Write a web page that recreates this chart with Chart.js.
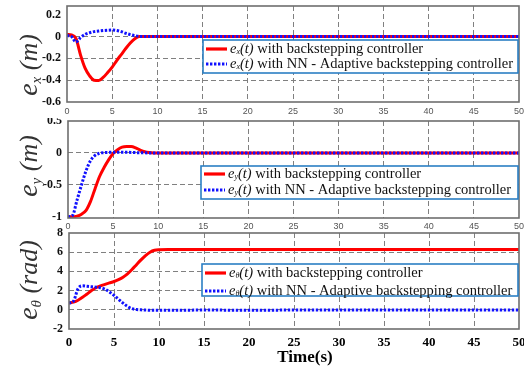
<!DOCTYPE html>
<html><head><meta charset="utf-8">
<script src="https://cdn.jsdelivr.net/npm/chart.js@4"></script>
<style>
html,body{margin:0;padding:0;background:#fff;width:524px;height:369px;overflow:hidden;position:relative}
canvas{position:absolute;left:0}
</style></head><body>
<canvas id="c1" style="top:0px"></canvas>
<canvas id="c2" style="top:118px"></canvas>
<canvas id="c3" style="top:228px"></canvas>
<script>
// ---- data ----
const T = [0,0.5,1,1.5,2,2.5,3,3.5,4,4.5,5,5.5,6,6.5,7,7.5,8,8.5,9,9.5,10,11,12,15,20,25,30,35,40,45,50];
const X_TICKS = [0,5,10,15,20,25,30,35,40,45,50];

const ex_bs = [0.02,0.015,-0.02,-0.17,-0.29,-0.36,-0.40,-0.402,-0.375,-0.33,-0.28,-0.22,-0.165,-0.11,-0.06,-0.02,0,0,0,0,0,0,0,0,0,0,0,0,0,0,0];
const ex_nn = [0.01,0.0,-0.05,-0.01,0.02,0.035,0.045,0.05,0.055,0.058,0.06,0.055,0.045,0.03,0.018,0.008,0.002,0,0,0,0,0,0,0,0,0,0,0,0,0,0];
const ex_ticks = [-0.6,-0.4,-0.2,0,0.2];

const ey_bs = [-1,-1,-0.99,-0.96,-0.9,-0.76,-0.56,-0.37,-0.23,-0.11,-0.01,0.05,0.09,0.1,0.1,0.08,0.045,0.018,0.005,0,0,0,0,0,0,0,0,0,0,0,0];
const ey_nn = [-1,-0.98,-0.74,-0.5,-0.28,-0.12,-0.04,-0.005,0.005,0.008,0.01,0.01,0.01,0.009,0.008,0.005,0.003,0.001,0,0,0,0,0,0,0,0,0,0,0,0,0];
const ey_ticks = [-1,-0.5,0,0.5];

const eth_bs = [0.7,0.8,1.0,1.3,1.65,2.0,2.3,2.5,2.65,2.8,2.95,3.15,3.4,3.75,4.2,4.7,5.2,5.65,6.0,6.2,6.26,6.28,6.28,6.28,6.28,6.28,6.28,6.28,6.28,6.28,6.28];
const eth_nn = [0.7,0.9,2.2,2.5,2.45,2.4,2.35,2.3,2.15,1.85,1.5,1.1,0.7,0.35,0.12,0.03,0,-0.03,-0.05,-0.05,-0.05,-0.04,-0.04,-0.03,-0.04,-0.03,-0.02,-0.03,-0.03,-0.02,-0.03];
const eth_ticks = [-2,0,2,4,6,8];

const LEG_BS = ' with backstepping controller';
const LEG_NN = ' with NN - Adaptive backstepping controller';

// ---- helpers ----
const SERIF = '"Liberation Serif","Times New Roman",serif';
const NARROW = '"Liberation Sans Narrow","Arial Narrow","Liberation Sans",sans-serif';
function pts(ys){ return T.map((t,i)=>({x:t,y:ys[i]})); }
function drawRich(ctx, x, y, parts){
  let cx = x;
  for (const [t,f,dy] of parts){ ctx.font = f; ctx.fillText(t, cx, y + (dy||0)); cx += ctx.measureText(t).width; }
  return cx;
}
function richWidth(ctx, parts){
  let w = 0;
  for (const [t,f] of parts){ ctx.font = f; w += ctx.measureText(t).width; }
  return w;
}

function makeChart(id, cfg){
  const cv = document.getElementById(id);
  cv.width = 524; cv.height = cfg.h;
  cv.style.width = '524px'; cv.style.height = cfg.h + 'px';
  const sub = cfg.sub;
  const framePlugin = {
    id: 'frame'+id,
    afterDatasetsDraw(chart){
      const ctx = chart.ctx, a = chart.chartArea;
      ctx.save();
      ctx.strokeStyle = '#6e6e6e'; ctx.lineWidth = 1.6;
      ctx.strokeRect(a.left, a.top, a.right - a.left, a.bottom - a.top);
      // legend
      const L = cfg.legend;
      ctx.fillStyle = '#fff';
      ctx.fillRect(L.x1, L.y1, L.x2 - L.x1, L.y2 - L.y1);
      ctx.strokeStyle = '#2b7fc4'; ctx.lineWidth = 1.6;
      ctx.strokeRect(L.x1, L.y1, L.x2 - L.x1, L.y2 - L.y1);
      ctx.lineWidth = 3.2; ctx.strokeStyle = '#ff0000'; ctx.setLineDash([]);
      ctx.beginPath(); ctx.moveTo(L.x1 + 3, L.r1); ctx.lineTo(L.x1 + 24, L.r1); ctx.stroke();
      ctx.strokeStyle = '#1010ff'; ctx.setLineDash([2.4,1.6]);
      ctx.beginPath(); ctx.moveTo(L.x1 + 3, L.r2); ctx.lineTo(L.x1 + 24, L.r2); ctx.stroke();
      ctx.setLineDash([]);
      ctx.textBaseline = 'middle'; ctx.textAlign = 'left';
      const mk = (txt) => [['e', `italic 14.5px ${SERIF}`, 0], [sub, `italic 8px ${SERIF}`, 3], ['(t)', `italic 14.5px ${SERIF}`, 0], [txt, `14.5px ${SERIF}`, 0]];
      ctx.fillStyle = '#111';
      drawRich(ctx, L.x1 + 27, L.r1, mk(LEG_BS));
      drawRich(ctx, L.x1 + 27, L.r2, mk(LEG_NN));
      // y title
      const Y = cfg.ytitle;
      const parts = [['e', `italic 28px ${SERIF}`, 0], [sub, `italic 15px ${SERIF}`, 7], [' (' + Y.unit + ')', `italic 26px ${SERIF}`, 0]];
      ctx.save();
      ctx.translate(Y.x, Y.y); ctx.rotate(-Math.PI/2);
      ctx.fillStyle = '#333';
      const w = richWidth(ctx, parts);
      drawRich(ctx, -w/2, 0, parts);
      ctx.restore();
      if (cfg.xtitle){
        ctx.font = `bold 17px ${SERIF}`; ctx.fillStyle = '#000'; ctx.textAlign = 'center';
        ctx.fillText('Time(s)', cfg.xtitle.x, cfg.xtitle.y);
      }
      ctx.restore();
    }
  };
  const gridColor = (c) => (c.tick && (c.index === 0 || c.index === c.chart.scales[c.scale.id].ticks.length - 1)) ? 'rgba(0,0,0,0)' : '#808080';
  return new Chart(cv, {
    type: 'line',
    data: { datasets: [
      { data: pts(cfg.bs), borderColor: '#ff0000', borderWidth: 3, pointRadius: 0, cubicInterpolationMode: 'monotone', fill: false, order: 2 },
      { data: pts(cfg.nn), borderColor: '#1010ff', borderWidth: 3, borderDash: [2.4,1.6], borderCapStyle: 'butt', pointRadius: 0, cubicInterpolationMode: 'monotone', fill: false, order: 1 }
    ]},
    options: {
      responsive: false, animation: false, devicePixelRatio: 1,
      layout: { padding: { top: cfg.padTop, right: 5, left: 0, bottom: 0 } },
      plugins: { legend: { display: false }, tooltip: { enabled: false } },
      scales: {
        x: {
          type: 'linear', min: 0, max: 50,
          afterBuildTicks: s => { s.ticks = X_TICKS.map(v => ({ value: v })); },
          afterFit: s => { s.height = cfg.xh; s.paddingLeft = 0; s.paddingRight = 0; },
          ticks: { font: cfg.xfont, color: cfg.xcolor, padding: cfg.xpad, maxRotation: 0, autoSkip: false },
          grid: { color: gridColor, lineWidth: 1, drawTicks: false },
          border: { display: false, dash: [5,3] }
        },
        y: {
          min: cfg.ymin, max: cfg.ymax,
          afterBuildTicks: s => { s.ticks = cfg.yticks.map(v => ({ value: v })); },
          afterFit: s => { s.width = cfg.left; s.paddingTop = 0; s.paddingBottom = 0; },
          ticks: { font: { family: SERIF, weight: 'bold', size: 12 }, color: '#111', padding: 6, callback: v => String(v) },
          grid: { color: gridColor, lineWidth: 1, drawTicks: false },
          border: { display: false, dash: [5,3] }
        }
      }
    },
    plugins: [framePlugin]
  });
}

makeChart('c1', {
  h: 120, padTop: 6, xh: 18, left: 67, xpad: 4,
  xfont: { family: NARROW, size: 9 }, xcolor: '#555',
  ymin: -0.6, ymax: 0.28, yticks: ex_ticks, bs: ex_bs, nn: ex_nn, sub: 'x',
  legend: { x1: 203, y1: 40, x2: 518, y2: 73, r1: 49, r2: 64 },
  ytitle: { x: 30, y: 65, unit: 'm' }
});
makeChart('c2', {
  h: 112, padTop: 3, xh: 12, left: 68, xpad: 3,
  xfont: { family: NARROW, size: 9 }, xcolor: '#555',
  ymin: -1.02, ymax: 0.5, yticks: ey_ticks, bs: ey_bs, nn: ey_nn, sub: 'y',
  legend: { x1: 201, y1: 48, x2: 518, y2: 81, r1: 56, r2: 72 },
  ytitle: { x: 30, y: 48, unit: 'm' }
});
makeChart('c3', {
  h: 141, padTop: 5, xh: 40, left: 69, xpad: 6,
  xfont: { family: SERIF, size: 13, weight: 'bold' }, xcolor: '#000',
  ymin: -2, ymax: 8, yticks: eth_ticks, bs: eth_bs, nn: eth_nn, sub: 'θ',
  legend: { x1: 202, y1: 36, x2: 518, y2: 68, r1: 45, r2: 63 },
  ytitle: { x: 30, y: 52, unit: 'rad' },
  xtitle: { x: 305, y: 130 }
});
</script>
</body></html>
